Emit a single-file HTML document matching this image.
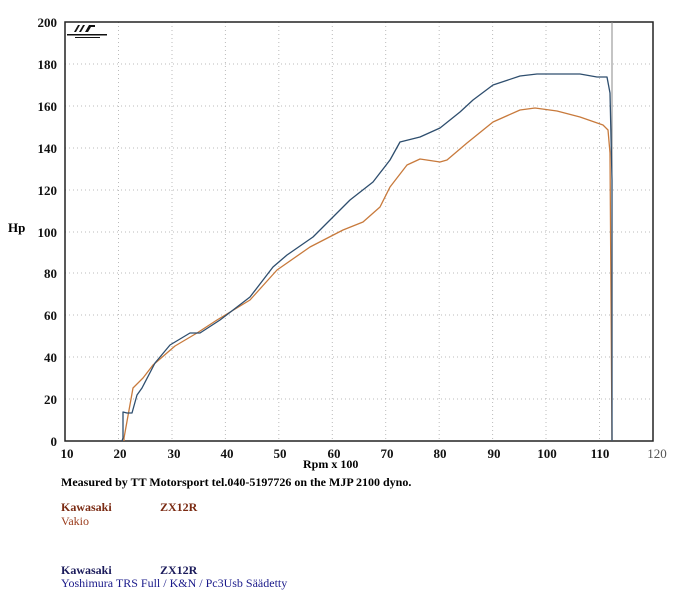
<!DOCTYPE html>
<html><head><style>
body{margin:0;background:#fff;width:700px;height:600px;overflow:hidden;font-family:"Liberation Serif",serif;}
</style></head><body>
<svg width="700" height="600" xmlns="http://www.w3.org/2000/svg" style="position:absolute;left:0;top:0">
<g stroke="#bbb" stroke-width="1" stroke-dasharray="1,3">
<line x1="118.5" y1="22" x2="118.5" y2="441"/><line x1="172" y1="22" x2="172" y2="441"/><line x1="225.4" y1="22" x2="225.4" y2="441"/><line x1="278.8" y1="22" x2="278.8" y2="441"/><line x1="332.3" y1="22" x2="332.3" y2="441"/><line x1="385.7" y1="22" x2="385.7" y2="441"/><line x1="439.2" y1="22" x2="439.2" y2="441"/><line x1="492.6" y1="22" x2="492.6" y2="441"/><line x1="546" y1="22" x2="546" y2="441"/><line x1="599.5" y1="22" x2="599.5" y2="441"/>
<line x1="65" y1="64" x2="653" y2="64"/><line x1="65" y1="106" x2="653" y2="106"/><line x1="65" y1="148" x2="653" y2="148"/><line x1="65" y1="190" x2="653" y2="190"/><line x1="65" y1="232" x2="653" y2="232"/><line x1="65" y1="273" x2="653" y2="273"/><line x1="65" y1="315" x2="653" y2="315"/><line x1="65" y1="357" x2="653" y2="357"/><line x1="65" y1="399" x2="653" y2="399"/>
</g>
<rect x="65" y="22" width="588" height="419" fill="none" stroke="#222" stroke-width="1.5"/>
<line x1="612" y1="22" x2="612" y2="441" stroke="#888" stroke-width="1"/>
<polyline fill="none" stroke="#c87a3c" stroke-width="1.3" stroke-linejoin="round" points="124,441 124,438 133,388 143,378 153,365 175,346 197,333 217,320 250,300 277,270 310,247 343,230 363,222 380,207 390,187 407,165 420,159 440,162 447,160 467,143 493,122 520,110 535,108 557,111 580,117 603,125 608,130 610,153 612,441"/>
<polyline fill="none" stroke="#2e4e6e" stroke-width="1.3" stroke-linejoin="round" points="122,441 123,438 123,412 127,413 132,413 137,395 142,388 155,363 170,345 190,333 200,333 220,320 237,307 250,297 273,267 287,255 313,237 333,217 350,200 373,182 390,160 400,142 420,137 440,128 460,112 473,100 493,85 520,76 537,74 580,74 597,77 607,77 610,93 612,180 612,441"/>
<g font-weight="bold" font-size="13" fill="#111" text-anchor="end">
<text x="57" y="27">200</text><text x="57" y="69">180</text><text x="57" y="111">160</text><text x="57" y="153">140</text><text x="57" y="195">120</text><text x="57" y="237">100</text><text x="57" y="278">80</text><text x="57" y="320">60</text><text x="57" y="362">40</text><text x="57" y="404">20</text><text x="57" y="446">0</text>
</g>
<text x="8" y="232" font-weight="bold" font-size="13">Hp</text>
<g font-weight="bold" font-size="13" fill="#111" text-anchor="middle">
<text x="67" y="458">10</text><text x="120" y="458">20</text><text x="174" y="458">30</text><text x="227" y="458">40</text><text x="280" y="458">50</text><text x="334" y="458">60</text><text x="387" y="458">70</text><text x="440" y="458">80</text><text x="494" y="458">90</text><text x="547" y="458">100</text><text x="600" y="458">110</text><text x="657" y="458" font-weight="normal" fill="#555">120</text>
</g>
<text x="303" y="468" font-weight="bold" font-size="12">Rpm x 100</text>
<text x="61" y="486" font-weight="bold" font-size="12">Measured by TT Motorsport tel.040-5197726 on the MJP 2100 dyno.</text>
<text x="61" y="511" font-weight="bold" font-size="12" fill="#7a2a12">Kawasaki</text>
<text x="160" y="511" font-weight="bold" font-size="12" fill="#7a2a12">ZX12R</text>
<text x="61" y="525" font-size="12" fill="#9a3a1a">Vakio</text>
<text x="61" y="574" font-weight="bold" font-size="12" fill="#1a1a5a">Kawasaki</text>
<text x="160" y="574" font-weight="bold" font-size="12" fill="#1a1a5a">ZX12R</text>
<text x="61" y="587" font-size="12" fill="#1a1a8a">Yoshimura TRS Full / K&amp;N / Pc3Usb Säädetty</text>
<g fill="#111"><polygon points="74,32 78,25 80,25 76,32"/><polygon points="79,32 83,25 85,25 81,32"/><polygon points="85,32 89,25 95,25 95,27 91,27 88,32"/><rect x="67" y="34" width="40" height="1.5"/><rect x="75" y="37" width="25" height="1"/></g>
</svg>
</body></html>
